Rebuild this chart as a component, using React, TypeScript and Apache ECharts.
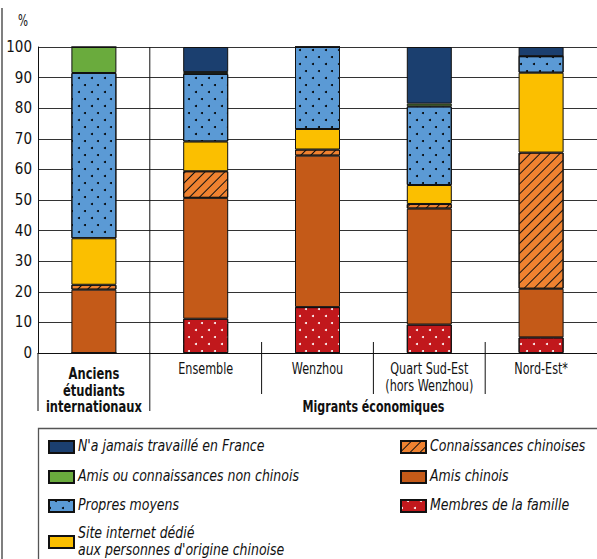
import React, { useEffect, useRef } from 'react';
import * as echarts from 'echarts';

// ---- data ----
const categories = [
  'Anciens étudiants internationaux',
  'Ensemble',
  'Wenzhou',
  'Quart Sud-Est (hors Wenzhou)',
  'Nord-Est*',
];
const categoryLabelLines = [
  ['Anciens', 'étudiants', 'internationaux'],
  ['Ensemble'],
  ['Wenzhou'],
  ['Quart Sud-Est', '(hors Wenzhou)'],
  ['Nord-Est*'],
];
const groupLabel = 'Migrants économiques';
const yAxisUnit = '%';

const famille = [0, 11.2, 15.0, 9.3, 5.1];
const amisChinois = [20.7, 39.5, 49.5, 37.9, 15.9];
const connaissancesChinoises = [1.6, 8.7, 2.0, 1.5, 44.5];
const siteInternet = [15.2, 9.7, 6.7, 6.2, 26.1];
const propresMoyens = [54.0, 22.1, 26.8, 25.7, 5.4];
const amisNonChinois = [8.5, 0.6, 0, 0.9, 0];
const jamaisTravaille = [0, 8.2, 0, 18.5, 3.0];

const NAME_FAMILLE = 'Membres de la famille';
const NAME_AMIS = 'Amis chinois';
const NAME_CONN = 'Connaissances chinoises';
const NAME_SITE = "Site internet dédié\naux personnes d'origine chinoise";
const NAME_PROPRES = 'Propres moyens';
const NAME_NONCH = 'Amis ou connaissances non chinois';
const NAME_JAMAIS = "N'a jamais travaillé en France";

const legendCol1 = [NAME_JAMAIS, NAME_NONCH, NAME_PROPRES, NAME_SITE];
const legendCol2 = [NAME_CONN, NAME_AMIS, NAME_FAMILLE];

// ---- styles ----
const FONT = "'Liberation Sans Narrow', 'DejaVu Sans Condensed', 'Open Sans', sans-serif";
const INK = '#111';
const SX_AXIS = 0.78; // horizontal condensing of axis texts
const SX_LEGEND = 0.87; // horizontal condensing of legend texts

const dotDecal = (color: string) => ({
  symbol: 'circle',
  symbolSize: 1,
  color,
  dashArrayX: [[2, 11], [0, 6, 2, 5]],
  dashArrayY: [2, 5],
  rotation: 0,
});
const hatchDecal = {
  symbol: 'rect',
  symbolSize: 1,
  color: '#111',
  dashArrayX: [[10, 0]],
  dashArrayY: [1, 6],
  rotation: -Math.PI / 4,
};

function makeSeries(name: string, data: number[], color: string, decal?: any) {
  return {
    name,
    type: 'bar',
    stack: 'total',
    barWidth: 45,
    data,
    itemStyle: {
      color,
      borderColor: INK,
      borderWidth: 1,
      ...(decal ? { decal } : {}),
    },
  };
}

function cText(text: string, x: number, y: number, sx: number, opts: any = {}) {
  return {
    type: 'text',
    x,
    y,
    scaleX: sx,
    style: {
      text,
      fontFamily: FONT,
      fontSize: 16,
      fill: INK,
      align: 'center',
      verticalAlign: 'middle',
      ...opts,
    },
  };
}

export default function App() {
  const ref = useRef<HTMLDivElement>(null);

  useEffect(() => {
    if (!ref.current) return;
    const chart = echarts.init(ref.current, null, { renderer: 'svg' });

    // legend layout: [name, iconLeft, iconCenterY]
    const legendLayout: [string, number, number][] = [
      [legendCol1[0], 48, 446],
      [legendCol1[1], 48, 476],
      [legendCol1[2], 48, 505],
      [legendCol1[3], 48, 541],
      [legendCol2[0], 400, 446],
      [legendCol2[1], 400, 476],
      [legendCol2[2], 400, 505],
    ];

    const option: any = {
      animation: false,
      backgroundColor: '#fff',
      grid: { left: 38, top: 47, width: 569, height: 306 },
      xAxis: {
        type: 'category',
        data: categories,
        axisLine: { show: true, lineStyle: { color: INK, width: 1 } },
        axisTick: { show: false },
        axisLabel: { show: false },
      },
      yAxis: {
        type: 'value',
        min: 0,
        max: 100,
        interval: 10,
        axisLine: { show: true, lineStyle: { color: INK, width: 1 } },
        axisTick: { show: false },
        axisLabel: { margin: 6, fontFamily: FONT, fontSize: 15, color: INK },
        splitLine: { show: true, lineStyle: { color: '#333', width: 1 } },
      },
      legend: legendLayout.map(([name, left, cy]) => ({
        data: [name],
        left,
        top: cy - 6,
        padding: 0,
        itemWidth: 25,
        itemHeight: 12,
        icon: 'rect',
        selectedMode: false,
        formatter: () => '',
        textStyle: { fontSize: 1 },
      })),
      series: [
        makeSeries(NAME_FAMILLE, famille, '#c1181c', dotDecal('#ffffff')),
        makeSeries(NAME_AMIS, amisChinois, '#c45a18'),
        makeSeries(NAME_CONN, connaissancesChinoises, '#ef8230', hatchDecal),
        makeSeries(NAME_SITE, siteInternet, '#fbbf00'),
        makeSeries(NAME_PROPRES, propresMoyens, '#5b9ad5', dotDecal('#000000')),
        makeSeries(NAME_NONCH, amisNonChinois, '#6aab3d'),
        makeSeries(NAME_JAMAIS, jamaisTravaille, '#1b3f6f'),
      ],
    };
    chart.setOption(option);

    const cx = categories.map((_, i) => chart.convertToPixel({ xAxisIndex: 0 }, i) as number);
    const band = cx[1] - cx[0];
    const y0 = chart.convertToPixel({ yAxisIndex: 0 }, 0) as number;
    const y100 = chart.convertToPixel({ yAxisIndex: 0 }, 100) as number;
    const bounds = cx.map((c) => c - band / 2);
    const lineStyle = { stroke: INK, lineWidth: 1 };

    const labelTexts: any[] = [];
    categoryLabelLines.forEach((lines, i) => {
      const bold = i === 0;
      const startY = bold ? y0 + 20.5 : y0 + 15.5;
      const lh = bold ? 16.5 : 17;
      lines.forEach((ln, k) => {
        labelTexts.push(cText(ln, cx[i], startY + k * lh, bold ? 0.8 : SX_AXIS, bold ? { fontWeight: 'bold' } : {}));
      });
    });

    const legendTexts: any[] = [];
    legendLayout.forEach(([name, left, cy]) => {
      const lines = name.split('\n');
      const lh = 16.5;
      const top = cy - ((lines.length - 1) * lh) / 2;
      lines.forEach((ln, k) => {
        legendTexts.push(cText(ln, left + 30, top + k * lh, SX_LEGEND, { align: 'left', fontStyle: 'italic' }));
      });
    });

    const graphic: any[] = [
      { type: 'line', shape: { x1: 2, y1: 8, x2: 2, y2: 600 }, style: { stroke: '#555', lineWidth: 1.5 } },
      { type: 'rect', shape: { x: 38.5, y: 428.5, width: 700, height: 300 }, style: { fill: 'none', stroke: '#555', lineWidth: 1.3 }, z: -1 },
      cText(yAxisUnit, 23, 21, SX_AXIS, { fontSize: 15 }),
      { type: 'line', shape: { x1: bounds[0], y1: y0, x2: bounds[0], y2: y0 + 58 }, style: lineStyle },
      { type: 'line', shape: { x1: bounds[1], y1: y100, x2: bounds[1], y2: y0 + 58 }, style: lineStyle },
      ...[2, 3, 4].map((i) => ({ type: 'line', shape: { x1: bounds[i], y1: y0 - 11, x2: bounds[i], y2: y0 + 41 }, style: lineStyle })),
      cText(groupLabel, (bounds[1] + cx[4] + band / 2) / 2, y0 + 53.5, 0.77, { fontWeight: 'bold' }),
      ...labelTexts,
      ...legendTexts,
    ];
    chart.setOption({ graphic });

    return () => chart.dispose();
  }, []);

  return (
    <div
      ref={ref}
      style={{ position: 'absolute', left: 0, top: 0, width: 597, height: 559, overflow: 'hidden' }}
    />
  );
}
